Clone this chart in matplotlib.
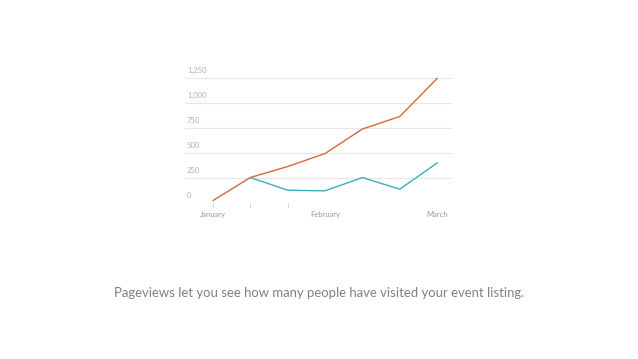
import matplotlib
matplotlib.use('Agg')
import matplotlib.pyplot as plt

# data
points = [0, 1, 2, 3, 4, 5, 6]
orange_vals = [25, 255, 365, 495, 740, 865, 1245]
teal_x = [1, 2, 3, 4, 5, 6]
teal_vals = [255, 128, 122, 255, 138, 400]
y_ticks = [0, 250, 500, 750, 1000, 1250]
y_labels = ['0', '250', '500', '750', '1,000', '1,250']
x_tick_pos = [0, 3, 6]
x_tick_labels = ['January', 'February', 'March']
caption = 'Pageviews let you see how many people have visited your event listing.'

plt.rcParams['font.family'] = ['Lato', 'DejaVu Sans']

fig = plt.figure(figsize=(6.38, 3.59), dpi=100)
fig.patch.set_facecolor('white')
ax = fig.add_axes([0.29, 0.4345, 0.4185, 0.3621])
ax.set_xlim(-0.75, 6.4)
ax.set_ylim(0, 1300)

# gridlines + labels sitting above them
for v, lab in zip(y_ticks, y_labels):
    ax.axhline(v, color='#e6e6e6', linewidth=0.8, zorder=0)
    ax.text(-0.7, v + 45, lab, color='#b0b0b0', fontsize=5.5, ha='left', va='bottom')

ax.plot(points, orange_vals, color='#d2693b', linewidth=1.0, zorder=3)
ax.plot(teal_x, teal_vals, color='#3aafb5', linewidth=1.0, zorder=3)

# small tick marks on baseline
for p in points[:3]:
    ax.plot([p, p], [0, -35], color='#d8d8d8', linewidth=0.7, clip_on=False)

for p, lab in zip(x_tick_pos, x_tick_labels):
    ax.text(p, -110, lab, color='#999999', fontsize=5.5, ha='center', va='center')

ax.axis('off')

fig.text(0.5, 1 - 293 / 359, caption, ha='center', va='center',
         color='#808080', fontsize=9.45, fontweight='normal')

fig.savefig('out.png', dpi=100, facecolor='white')
